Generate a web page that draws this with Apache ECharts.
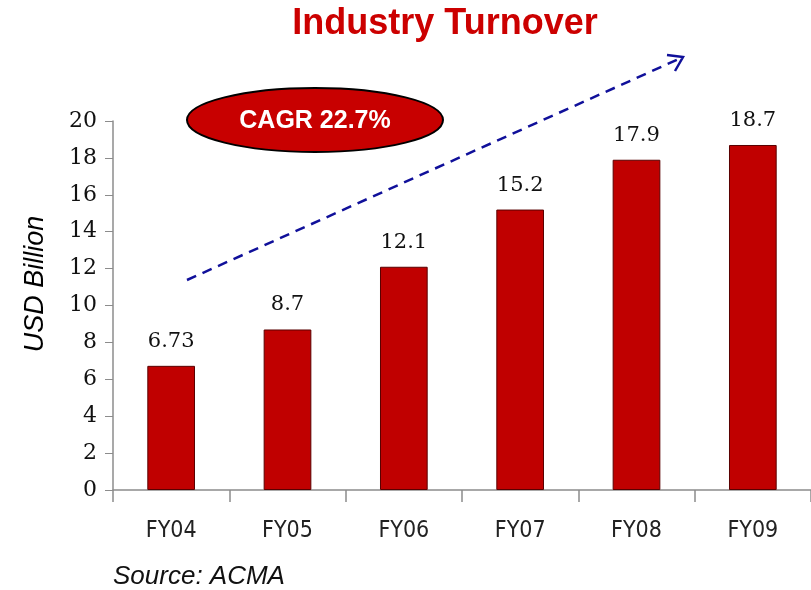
<!DOCTYPE html>
<html lang="en">
<head>
    <meta charset="utf-8">
    <script src="https://cdn.jsdelivr.net/npm/echarts@6/dist/echarts.min.js"></script>
    <style>
        html, body { margin: 0; padding: 0; background: #fff; }
        #main { width: 811px; height: 590px; }
    </style>
</head>
<body>
<div id="main"></div>
<script type="text/javascript">
    // data
    var years = ["FY04", "FY05", "FY06", "FY07", "FY08", "FY09"];
    var turnover = [6.73, 8.7, 12.1, 15.2, 17.9, 18.7];
    var turnoverLabels = ["6.73", "8.7", "12.1", "15.2", "17.9", "18.7"];
    var yTicks = [0, 2, 4, 6, 8, 10, 12, 14, 16, 18, 20];

    var chart = echarts.init(document.getElementById('main'));
    var axisGrey = '#8c8c8c';

    var option = {
        animation: false,
        title: {
            text: 'Industry Turnover',
            left: 440,
            top: 1,
            textAlign: 'center',
            textStyle: {
                color: '#cc0000',
                fontFamily: 'Liberation Sans',
                fontWeight: 'bold',
                fontSize: 36
            }
        },
        grid: { left: 113, top: 121, right: 0, bottom: 100 },
        xAxis: {
            type: 'category',
            data: years,
            axisLine: { lineStyle: { color: axisGrey, width: 1.5 } },
            axisTick: { show: true, alignWithLabel: false, length: 12, lineStyle: { color: axisGrey, width: 1.5 } },
            axisLabel: {
                margin: 30,
                color: '#222',
                fontFamily: 'DejaVu Sans Condensed',
                fontSize: 23
            }
        },
        yAxis: {
            type: 'value',
            min: yTicks[0],
            max: yTicks[yTicks.length - 1],
            interval: 2,
            splitLine: { show: false },
            axisLine: { show: true, lineStyle: { color: axisGrey, width: 1.5 } },
            axisTick: { show: true, inside: false, length: 8, lineStyle: { color: axisGrey } },
            axisLabel: {
                margin: 16,
                color: '#111',
                fontFamily: 'DejaVu Serif',
                fontSize: 22
            }
        },
        series: [{
            type: 'bar',
            data: turnover,
            barWidth: '41%',
            itemStyle: { color: '#c00000', borderColor: '#5a0000', borderWidth: 1 },
            label: {
                show: true,
                position: 'top',
                distance: 14,
                color: '#111',
                fontFamily: 'DejaVu Serif',
                fontSize: 21,
                formatter: function (p) { return turnoverLabels[p.dataIndex]; }
            }
        }],
        graphic: [
            {
                type: 'text',
                x: 35,
                y: 284,
                rotation: Math.PI / 2,
                style: {
                    text: 'USD Billion',
                    fill: '#000',
                    font: 'italic 27px "Liberation Sans"',
                    align: 'center',
                    verticalAlign: 'middle'
                }
            },
            {
                type: 'line',
                shape: { x1: 187, y1: 280, x2: 681, y2: 58 },
                style: { stroke: '#10109a', lineWidth: 2.5, lineDash: [10, 7] }
            },
            {
                type: 'polyline',
                shape: { points: [[667, 55], [683, 57], [675, 71]] },
                style: { stroke: '#10109a', lineWidth: 2.5, fill: null }
            },
            {
                type: 'ellipse',
                shape: { cx: 315, cy: 120, rx: 128, ry: 32 },
                style: { fill: '#c80000', stroke: '#000', lineWidth: 2 }
            },
            {
                type: 'text',
                x: 315,
                y: 121,
                style: {
                    text: 'CAGR 22.7%',
                    fill: '#fff',
                    font: 'bold 25px "Liberation Sans"',
                    align: 'center',
                    verticalAlign: 'middle'
                }
            },
            {
                type: 'text',
                x: 113,
                y: 577,
                style: {
                    text: 'Source: ACMA',
                    fill: '#111',
                    font: 'italic 26px "Liberation Sans"',
                    align: 'left',
                    verticalAlign: 'middle'
                }
            }
        ]
    };
    chart.setOption(option);
</script>
</body>
</html>
